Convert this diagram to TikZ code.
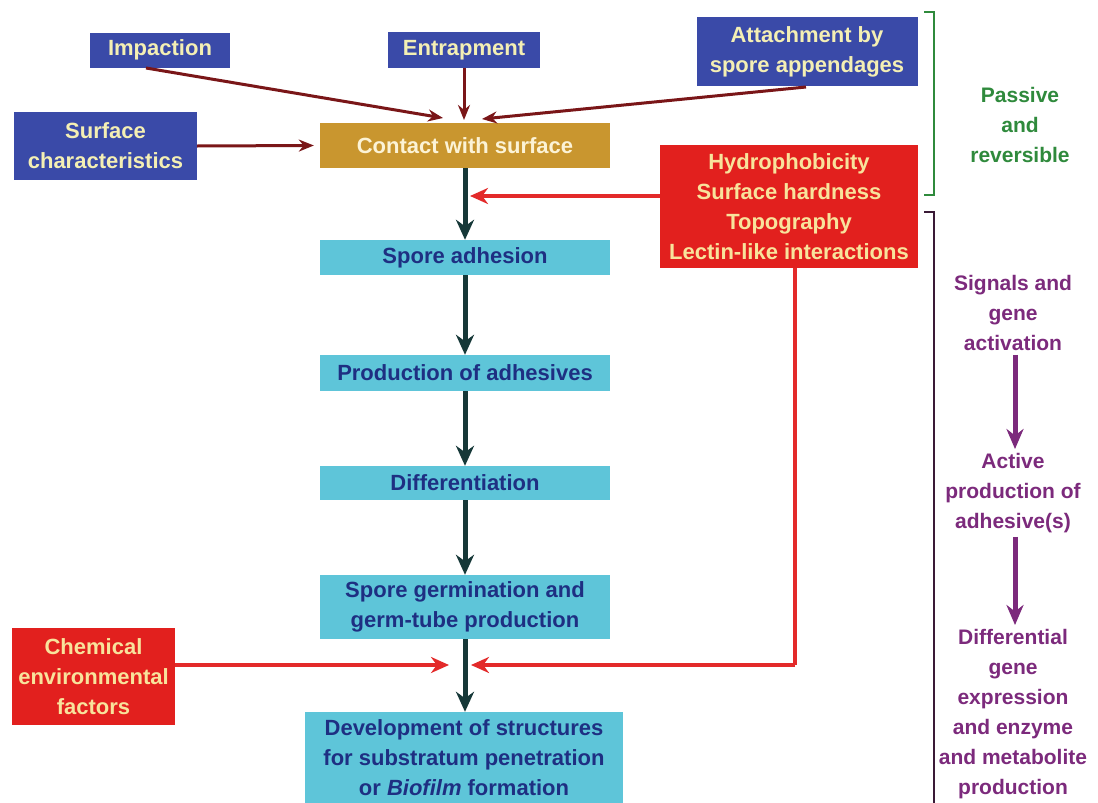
\documentclass[tikz,border=0pt]{standalone}
\usepackage{fontspec}
\setmainfont{Liberation Sans}
\usetikzlibrary{arrows.meta}
\definecolor{bluebox}{HTML}{3A4AA8}
\definecolor{bluetxt}{HTML}{F4EFB4}
\definecolor{goldbox}{HTML}{C9962F}
\definecolor{goldtxt}{HTML}{FCF3D6}
\definecolor{cyanbox}{HTML}{5EC5D9}
\definecolor{cyantxt}{HTML}{1E2F82}
\definecolor{redbox}{HTML}{E2201E}
\definecolor{redtxt}{HTML}{F8E39C}
\definecolor{brownarr}{HTML}{7A1618}
\definecolor{redarr}{HTML}{E32A2A}
\definecolor{darkarr}{HTML}{163838}
\definecolor{greentxt}{HTML}{2F8A3C}
\definecolor{purptxt}{HTML}{7C2A7C}
\definecolor{purpline}{HTML}{3A1A36}
\tikzset{
  box/.style={rectangle, inner sep=0pt, align=center, font=\bfseries\fontsize{22}{30}\selectfont},
  bluenode/.style={box, fill=bluebox, text=bluetxt},
  goldnode/.style={box, fill=goldbox, text=goldtxt},
  cyannode/.style={box, fill=cyanbox, text=cyantxt},
  rednode/.style={box, fill=redbox, text=redtxt},
  sidetext/.style={inner sep=0pt, align=center, font=\bfseries\fontsize{21}{30}\selectfont},
  brownarrow/.style={draw=brownarr, line width=3pt, -{Stealth[length=15pt,width=12pt]}},
  redarrow/.style={draw=redarr, line width=4pt, -{Stealth[length=18pt,width=16pt]}},
  redline/.style={draw=redarr, line width=4pt},
  darkarrow/.style={draw=darkarr, line width=5pt, -{Stealth[length=20pt,width=18pt]}},
  purparrow/.style={draw=purptxt, line width=5pt, -{Stealth[length=20pt,width=17pt]}},
  bracketline/.style={line width=2pt}
}
\begin{document}
\begin{tikzpicture}[x=1pt,y=-1pt]
\clip (0,0) rectangle (1098,803);
\fill[white] (0,0) rectangle (1098,803);

% top boxes
\node[bluenode, minimum width=140pt, minimum height=35pt] (imp) at (160,50) {Impaction};
\node[bluenode, minimum width=152pt, minimum height=36pt] (ent) at (464,50) {Entrapment};
\node[bluenode, minimum width=221pt, minimum height=69pt] (att) at (807,51.5) {Attachment by\\spore appendages};
\node[bluenode, minimum width=183pt, minimum height=68pt] (surf) at (105.5,146) {Surface\\characteristics};
\node[goldnode, minimum width=290pt, minimum height=45pt] (cont) at (465,145.5) {Contact with surface};
\node[rednode, minimum width=258pt, minimum height=123pt] (hyd) at (789,206.5) {Hydrophobicity\\Surface hardness\\Topography\\Lectin-like interactions};

% main column
\node[cyannode, minimum width=290pt, minimum height=35pt] (sa) at (465,257.5) {Spore adhesion};
\node[cyannode, minimum width=290pt, minimum height=36pt] (pa) at (465,373) {Production of adhesives};
\node[cyannode, minimum width=290pt, minimum height=34pt] (dif) at (465,483) {Differentiation};
\node[cyannode, minimum width=290pt, minimum height=64pt] (sg) at (465,607) {Spore germination and\\germ-tube production};
\node[cyannode, minimum width=318pt, minimum height=91pt] (dev) at (464,757.5) {Development of structures\\for substratum penetration\\or \textit{Biofilm} formation};
\node[rednode, minimum width=163pt, minimum height=97pt] (chem) at (93.5,676.5) {Chemical\\environmental\\factors};

% right column texts
\node[sidetext, text=greentxt] (pas) at (1020,125) {Passive\\and\\reversible};
\node[sidetext, text=purptxt] (sig) at (1013,313) {Signals and\\gene\\activation};
\node[sidetext, text=purptxt] (act) at (1013,493) {Active\\production of\\adhesive(s)};
\node[sidetext, text=purptxt] (dfe) at (1013,714) {Differential\\gene\\expression\\and enzyme\\and metabolite\\production};

% brackets
\draw[greentxt, bracketline] (924,12) -- (934,12) -- (934,195) -- (924,195);
\draw[purpline, bracketline] (924,212) -- (934,212) -- (934,810);

% coordinates
\coordinate (impt) at (443,118);
\coordinate (entt) at (464,120);
\coordinate (attt) at (482,119);
\coordinate (attb) at (806,87);
\coordinate (impb) at (146,68);
\coordinate (hydtip) at (470,196);
\coordinate (corner) at (795,665);
\coordinate (hydbot) at (795,268);
\coordinate (jr) at (471,665);
\coordinate (jl) at (449,665);
\coordinate (chemr) at (175,665);

% brown arrows
\draw[brownarrow] (impb) -- (impt);
\draw[brownarrow] (ent.south) -- (entt);
\draw[brownarrow] (attb) -- (attt);
\draw[brownarrow] (surf.east) -- ([xshift=-6pt]cont.west);

% dark arrows
\draw[darkarrow] (cont.south) -- (sa.north);
\draw[darkarrow] (sa.south) -- (pa.north);
\draw[darkarrow] (pa.south) -- (dif.north);
\draw[darkarrow] (dif.south) -- (sg.north);
\draw[darkarrow] (sg.south) -- (sg.south |- dev.north);

% red arrows
\draw[redarrow] (hyd.west |- hydtip) -- (hydtip);
\draw[redline] (hydbot) -- (corner);
\draw[redarrow] (corner) -- (jr);
\draw[redarrow] (chemr) -- (jl);

% purple arrows
\draw[purparrow] ([xshift=2pt,yshift=-4pt]sig.south) -- ([xshift=2pt,yshift=4pt]act.north);
\draw[purparrow] ([xshift=2pt,yshift=-4pt]act.south) -- ([xshift=2pt,yshift=4pt]dfe.north);
\end{tikzpicture}
\end{document}
